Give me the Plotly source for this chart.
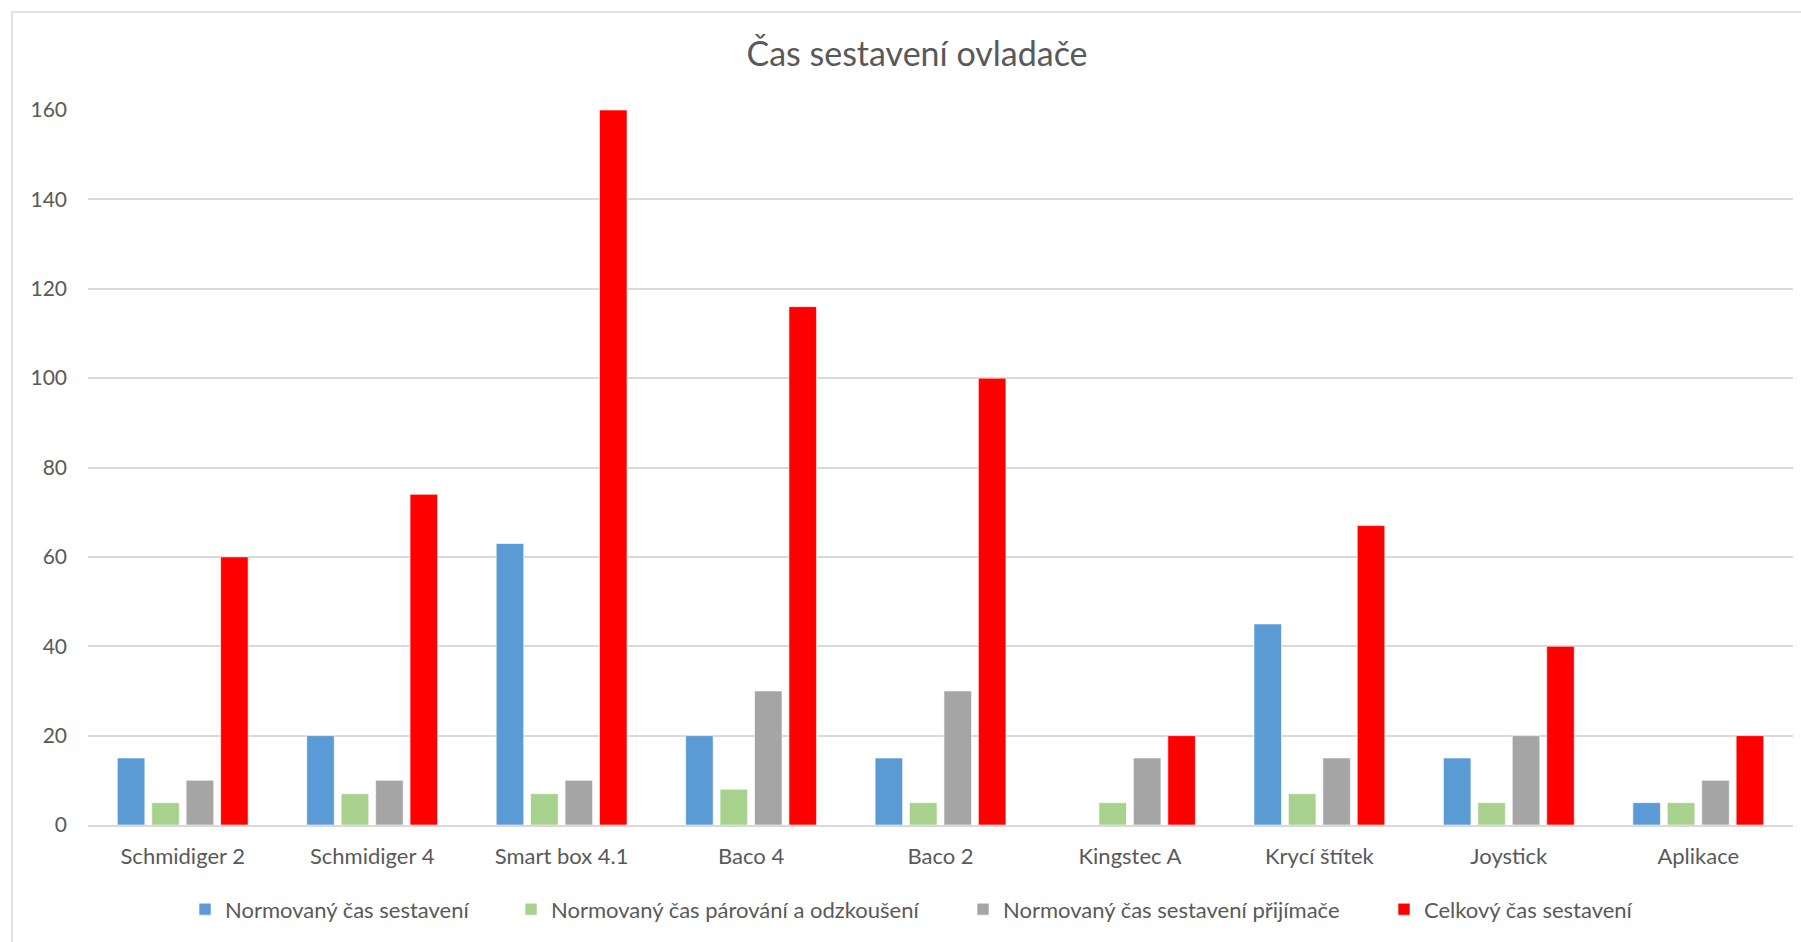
import plotly.graph_objects as go

categories = ["Schmidiger 2", "Schmidiger 4", "Smart box 4.1", "Baco 4", "Baco 2",
              "Kingstec A", "Krycí štítek", "Joystick", "Aplikace"]
norm_sestaveni = [15, 20, 63, 20, 15, None, 45, 15, 5]
norm_parovani = [5, 7, 7, 8, 5, 5, 7, 5, 5]
norm_prijimace = [10, 10, 10, 30, 30, 15, 15, 20, 10]
celkovy = [60, 74, 160, 116, 100, 20, 67, 40, 20]

series_names = ["Normovaný čas sestavení", "Normovaný čas párování a odzkoušení",
                "Normovaný čas sestavení přijímače", "Celkový čas sestavení"]
series_values = [norm_sestaveni, norm_parovani, norm_prijimace, celkovy]
series_colors = ["#5B9BD5", "#A9D18E", "#A5A5A5", "#FF0000"]
y_ticks = [0, 20, 40, 60, 80, 100, 120, 140, 160]

FONT = "Lato"
TXT = "#595959"

# legend text start positions (pixels) for each series
legend_text_px = [225, 551, 1003, 1424]
legend_ids = ["legend", "legend2", "legend3", "legend4"]

PL, PW = 88, 1705  # plot left, plot width in px

fig = go.Figure()
for name, vals, col, lid in zip(series_names, series_values, series_colors, legend_ids):
    fig.add_trace(go.Bar(x=categories, y=vals, name=name, legend=lid,
                         marker=dict(color=col, line=dict(color="rgba(255,255,255,0.6)", width=1))))

legend_layout = {}
for lid, tx in zip(legend_ids, legend_text_px):
    legend_layout[lid] = dict(orientation="h", x=(tx - 40 - PL) / PW, xanchor="left",
                              y=-0.118, yanchor="middle", bgcolor="rgba(0,0,0,0)",
                              font=dict(family=FONT, size=22, color=TXT))

fig.update_layout(
    width=1801, height=942,
    paper_bgcolor="white", plot_bgcolor="white",
    margin=dict(l=PL, r=8, t=110, b=117),
    barmode="group", bargap=0.273, bargroupgap=0.2,
    font=dict(family=FONT, color=TXT, size=22),
    title=dict(text="Čas sestavení ovladače", x=(917 - PL) / PW, xref="paper", xanchor="center",
               y=1 - 54 / 942, yanchor="middle", font=dict(family=FONT, size=34, color=TXT)),
    showlegend=True,
    xaxis=dict(showgrid=False, showline=True, linecolor="#D9D9D9", linewidth=2,
               ticks="", ticklabelstandoff=11, tickfont=dict(family=FONT, size=22, color=TXT)),
    yaxis=dict(range=[0, 160], tickvals=y_ticks, showgrid=True, gridcolor="#D9D9D9", gridwidth=1.5,
               zeroline=False, showline=False, ticks="", ticklabelstandoff=20,
               tickfont=dict(family=FONT, size=21, color=TXT)),
    shapes=[dict(type="rect", xref="paper", yref="paper",
                 x0=(12 - PL) / PW, x1=1.2, y0=-0.4, y1=(825 - 12) / 715,
                 line=dict(color="#D9D9D9", width=1.5), fillcolor="rgba(0,0,0,0)", layer="below")],
    **legend_layout,
)

fig.write_html("out.html")
